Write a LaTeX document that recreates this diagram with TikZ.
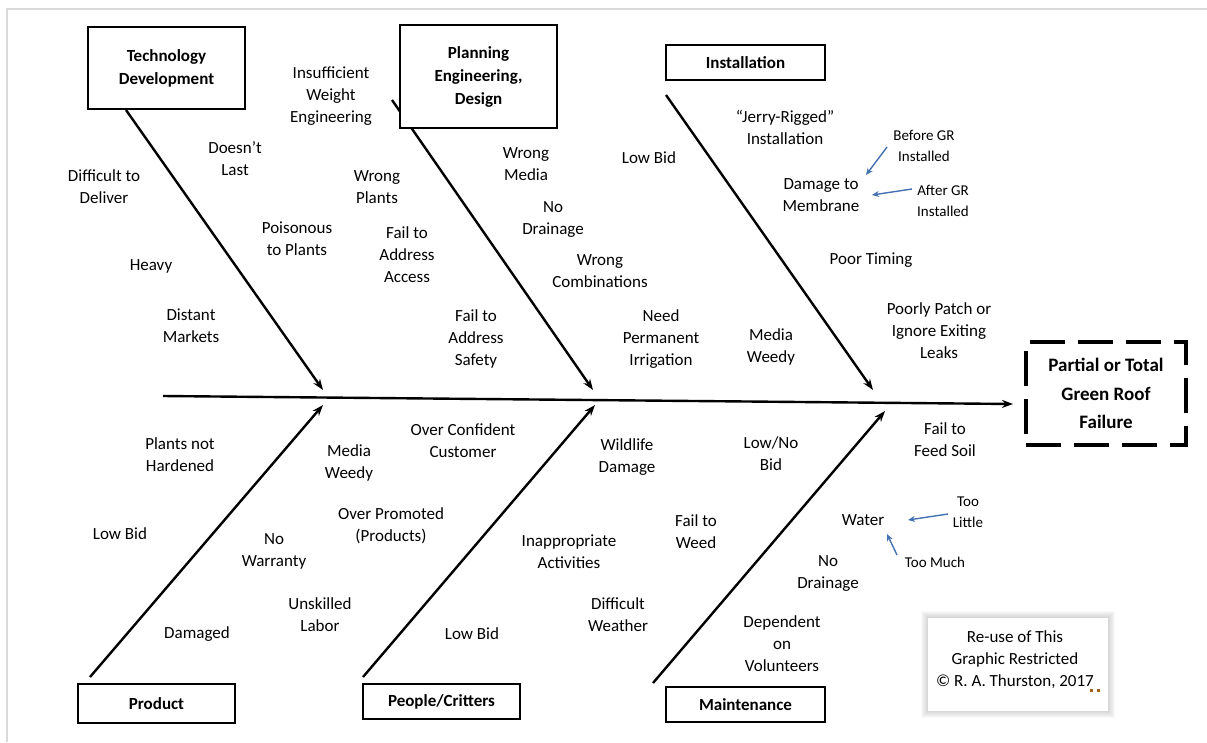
\documentclass[tikz,border=0pt]{standalone}
\usepackage{fontspec}
\setmainfont{Carlito}
\usetikzlibrary{arrows.meta}
\definecolor{bluearrow}{RGB}{68,114,176}
\definecolor{framegray}{RGB}{218,218,218}
\definecolor{dotbrown}{RGB}{170,95,20}
\begin{document}
\begin{tikzpicture}[x=1pt,y=-1pt,
  lbl/.style={align=center,inner sep=0pt,font=\fontsize{17}{22}\selectfont},
  sml/.style={align=center,inner sep=0pt,font=\fontsize{15}{21}\selectfont},
  cbox/.style={draw,line width=1.3pt,fill=white,align=center,font=\bfseries\fontsize{17}{23}\selectfont,inner sep=0pt},
  bone/.style={line width=2.4pt,-{Stealth[length=11pt,width=8pt]}},
  blu/.style={draw=bluearrow,line width=1.4pt,-{Stealth[length=7pt,width=6pt]}},
]
\useasboundingbox (0,0) rectangle (1207,742);
% outer frame
\draw[framegray,line width=2pt] (7,742) -- (7,9) -- (1207,9);

% bone end coordinates
\coordinate (sp0) at (163,396);
\coordinate (sp1) at (1013,404);
\coordinate (t1s) at (126,110);  \coordinate (t1e) at (323,390);
\coordinate (t2s) at (392,100);  \coordinate (t2e) at (593,390);
\coordinate (t3s) at (666,95);   \coordinate (t3e) at (873,390);
\coordinate (b1s) at (90,677);   \coordinate (b1e) at (323,405);
\coordinate (b2s) at (363,677);  \coordinate (b2e) at (595,405);
\coordinate (b3s) at (653,683);  \coordinate (b3e) at (885,411);

% spine and bones
\draw[bone] (sp0) -- (sp1);
\draw[bone] (t1s) -- (t1e);
\draw[bone] (t2s) -- (t2e);
\draw[bone] (t3s) -- (t3e);
\draw[bone] (b1s) -- (b1e);
\draw[bone] (b2s) -- (b2e);
\draw[bone] (b3s) -- (b3e);

% category boxes
\node[cbox,minimum width=157pt,minimum height=82pt] (tech) at (166.5,68) {Technology\\Development};
\node[cbox,minimum width=157pt,minimum height=103pt] (plan) at (478.5,76.5) {Planning\\Engineering,\\Design};
\node[cbox,minimum width=159pt,minimum height=35pt] (inst) at (745.5,62.5) {Installation};
\node[cbox,minimum width=157pt,minimum height=39pt] (prod) at (156.5,703.5) {Product};
\node[cbox,minimum width=157pt,minimum height=35pt] (peop) at (441.5,701.5) {People/Critters};
\node[cbox,minimum width=159pt,minimum height=35pt] (main) at (745.5,704.5) {Maintenance};

% effect box
\node[draw,line width=3.2pt,dash pattern=on 35pt off 13pt,minimum width=160pt,minimum height=103pt,align=center,inner sep=0pt,font=\bfseries\fontsize{19}{28.5}\selectfont] (eff) at (1106,393.5) {Partial or Total\\Green Roof\\Failure};

% top labels
\node[lbl] (l1) at (104,187) {Difficult to\\Deliver};
\node[lbl] (l2) at (235,159) {Doesn’t\\Last};
\node[lbl] (l3) at (331,96) {Insufficient\\Weight\\Engineering};
\node[lbl] (l4) at (151,266) {Heavy};
\node[lbl] (l5) at (297,239) {Poisonous\\to Plants};
\node[lbl] (l6) at (191,326) {Distant\\Markets};
\node[lbl] (l7) at (377,187) {Wrong\\Plants};
\node[lbl] (l8) at (407,255) {Fail to\\Address\\Access};
\node[lbl] (l9) at (476,339) {Fail to\\Address\\Safety};
\node[lbl] (l10) at (526,164) {Wrong\\Media};
\node[lbl] (l11) at (553,220) {No\\Drainage};
\node[lbl] (l12) at (600,271) {Wrong\\Combinations};
\node[lbl] (l13) at (649,158) {Low Bid};
\node[lbl] (l14) at (661,339) {Need\\Permanent\\Irrigation};
\node[lbl] (l15) at (771,347) {Media\\Weedy};
\node[lbl] (l16) at (785,127) {“Jerry-Rigged”\\Installation};
\node[lbl] (l17) at (821,195) {Damage to\\Membrane};
\node[lbl] (l18) at (871,260) {Poor Timing};
\node[lbl] (l19) at (939,331) {Poorly Patch or\\Ignore Exiting\\Leaks};
\node[sml] (s1) at (924,146) {Before GR\\Installed};
\node[sml] (s2) at (943,201) {After GR\\Installed};

% bottom labels
\node[lbl] (m1) at (180,455) {Plants not\\Hardened};
\node[lbl] (m2) at (349,463) {Media\\Weedy};
\node[lbl] (m3) at (463,441) {Over Confident\\Customer};
\node[lbl] (m4) at (627,457) {Wildlife\\Damage};
\node[lbl] (m5) at (771,454) {Low/No\\Bid};
\node[lbl] (m6) at (945,440) {Fail to\\Feed Soil};
\node[lbl] (m7) at (120,534) {Low Bid};
\node[lbl] (m8) at (274,551) {No\\Warranty};
\node[lbl] (m9) at (391,526) {Over Promoted\\(Products)};
\node[lbl] (m10) at (569,552) {Inappropriate\\Activities};
\node[lbl] (m11) at (696,532) {Fail to\\Weed};
\node[lbl] (m12) at (863,520) {Water};
\node[lbl] (m13) at (828,573) {No\\Drainage};
\node[lbl] (m14) at (197,634) {Damaged};
\node[lbl] (m15) at (320,615) {Unskilled\\Labor};
\node[lbl] (m16) at (472,634) {Low Bid};
\node[lbl] (m17) at (618,615) {Difficult\\Weather};
\node[lbl] (m18) at (782,644) {Dependent\\on\\Volunteers};
\node[sml] (s3) at (968,512) {Too\\Little};
\node[sml] (s4) at (935,562) {Too Much};

% blue arrows
\coordinate (a1s) at (887,147); \coordinate (a1e) at (866,175);
\coordinate (a2s) at (912,189); \coordinate (a2e) at (872,195);
\coordinate (a3s) at (948,514); \coordinate (a3e) at (908,520);
\coordinate (a4s) at (897,555); \coordinate (a4e) at (887,534);
\draw[blu] (a1s) -- (a1e);
\draw[blu] (a2s) -- (a2e);
\draw[blu] (a3s) -- (a3e);
\draw[blu] (a4s) -- (a4e);

% copyright box with soft glow
\foreach \d in {7,6,5,4,3,2,1}{
  \fill[black,opacity=0.025] (928-\d,618-\d) rectangle (1108+\d,711+\d);
}
\node[fill=white,minimum width=180pt,minimum height=93pt,inner sep=0pt] (copy) at (1018,664.5) {};
\node[lbl] (ctext) at (1015,660) {Re-use of This\\Graphic Restricted\\© R. A. Thurston, 2017};
\fill[dotbrown] (1090,689) rectangle (1093,692);
\fill[dotbrown] (1097,689) rectangle (1100,692);
\end{tikzpicture}
\end{document}
